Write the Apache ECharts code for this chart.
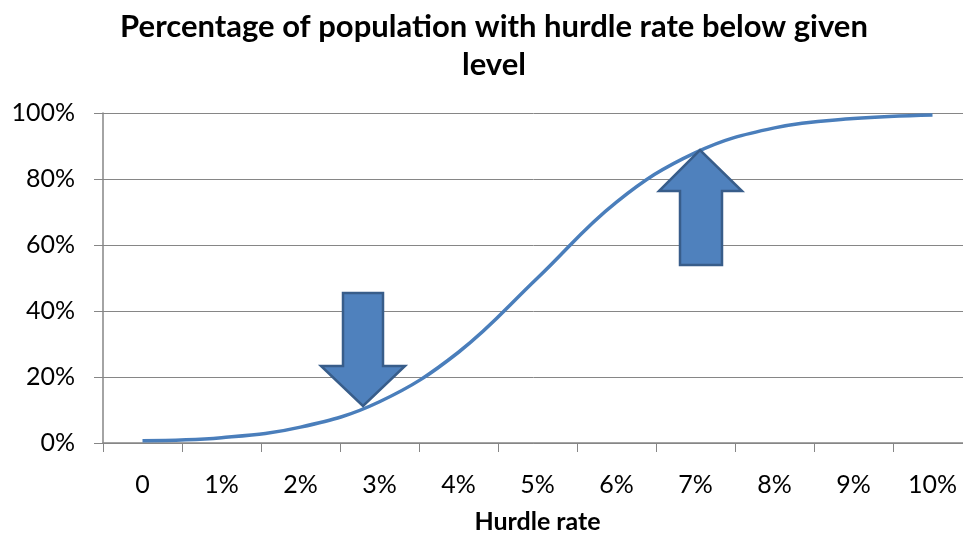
<!DOCTYPE html>
<html>
<head>
<meta charset="utf-8">
<script src="https://cdn.jsdelivr.net/npm/echarts@6/dist/echarts.min.js"></script>
<style>
    html, body { margin: 0; padding: 0; background: #fff; }
    #chart { width: 963px; height: 533px; }
</style>
</head>
<body>
<div id="chart"></div>
<script>
// hurdle rate categories and cumulative share (%)
const hurdleRates = ['0', '1%', '2%', '3%', '4%', '5%', '6%', '7%', '8%', '9%', '10%'];
const shareBelow = [0.7, 1.6, 4.8, 12.5, 27.5, 50, 73, 88, 95.5, 98.3, 99.4];
const yTicks = [0, 20, 40, 60, 80, 100];

const font = 'Lato, "Open Sans", sans-serif';
const arrowFill = '#4F81BD';
const arrowStroke = '#385D8A';

const chart = echarts.init(document.getElementById('chart'));

chart.setOption({
    animation: false,
    title: {
        text: 'Percentage of population with hurdle rate below given\nlevel',
        left: 489,
        top: 3,
        textAlign: 'center',
        textStyle: {
            fontFamily: font,
            fontSize: 31,
            fontWeight: 'bold',
            color: '#000',
            lineHeight: 38
        }
    },
    grid: {
        left: 103,
        top: 113,
        width: 869,
        height: 330,
        outerBoundsMode: 'none'
    },
    xAxis: {
        type: 'category',
        data: hurdleRates,
        boundaryGap: true,
        name: 'Hurdle rate',
        nameLocation: 'middle',
        nameGap: 66,
        nameTextStyle: {
            fontFamily: font,
            fontSize: 25,
            fontWeight: 'bold',
            color: '#000'
        },
        axisLine: { lineStyle: { color: '#868686', width: 1.5 } },
        axisTick: { show: true, length: 9, lineStyle: { color: '#868686' } },
        axisLabel: {
            margin: 29,
            fontFamily: font,
            fontSize: 25,
            color: '#000'
        }
    },
    yAxis: {
        type: 'value',
        min: yTicks[0],
        max: yTicks[yTicks.length - 1],
        interval: 20,
        axisLine: { show: true, lineStyle: { color: '#868686', width: 1.5 } },
        axisTick: { show: true, length: 9, lineStyle: { color: '#868686' } },
        splitLine: { lineStyle: { color: '#868686', width: 1 } },
        axisLabel: {
            margin: 28,
            fontFamily: font,
            fontSize: 25,
            color: '#000',
            formatter: function (value) {
                return value + '%';
            }
        }
    },
    series: [{
        type: 'line',
        data: shareBelow,
        smooth: 0.4,
        symbol: 'none',
        lineStyle: { color: '#4A7EBB', width: 3.5 }
    }]
});

// the two block arrows are annotations drawn on top of the plot
function blockArrow(shaftL, shaftR, headL, headR, tail, base, tipX, tipY) {
    return {
        type: 'polygon',
        z: 100,
        shape: {
            points: [
                [shaftL, tail], [shaftR, tail], [shaftR, base], [headR, base],
                [tipX, tipY], [headL, base], [shaftL, base]
            ]
        },
        style: { fill: arrowFill, stroke: arrowStroke, lineWidth: 2.5 }
    };
}

chart.setOption({
    graphic: [
        blockArrow(343, 383, 321, 405, 293, 366, 363, 406),
        blockArrow(680, 722, 659, 742, 265, 191, 700, 150)
    ]
});
</script>
</body>
</html>
